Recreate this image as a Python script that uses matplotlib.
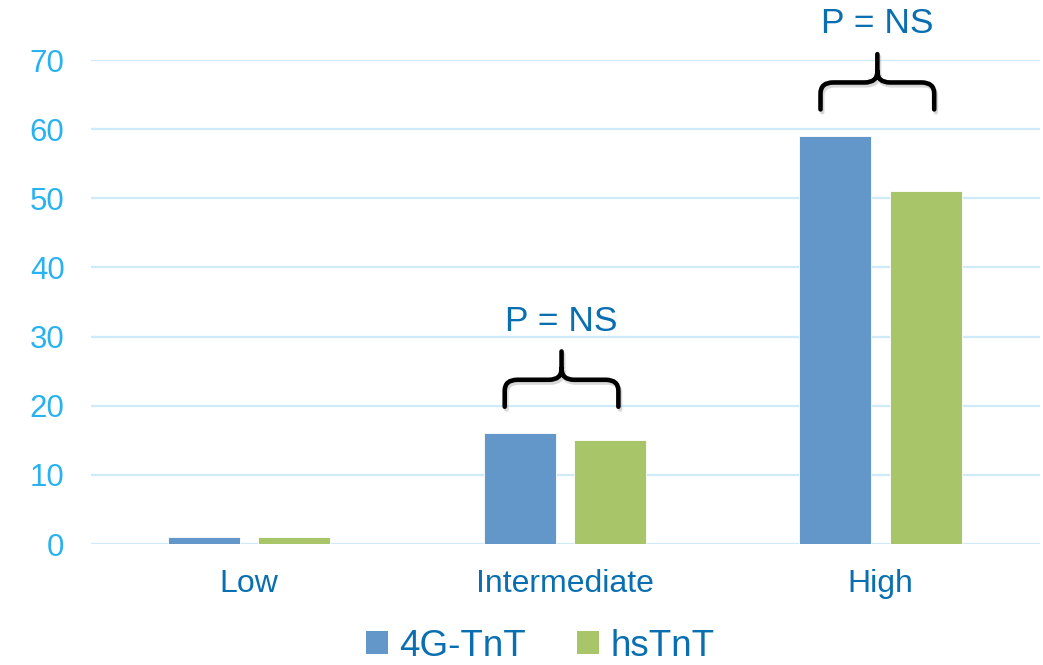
import matplotlib
matplotlib.use("Agg")
import matplotlib.pyplot as plt
from matplotlib.path import Path
from matplotlib.patches import PathPatch, Patch
import matplotlib.patheffects as pe
import numpy as np

plt.rcParams['font.family'] = ['Liberation Sans', 'DejaVu Sans']

categories = ["Low", "Intermediate", "High"]
series_names = ["4G-TnT", "hsTnT"]
tnt_4g = [1, 16, 59]
hs_tnt = [1, 15, 51]
y_ticks = [0, 10, 20, 30, 40, 50, 60, 70]
annotated = [1, 2]          # categories with a comparison bracket
annotation_text = "P = NS"

blue = "#6397C9"
green = "#A9C56A"
tick_blue = "#29B2F2"
text_blue = "#0A6FB0"
grid_col = "#CFEBFA"

fig = plt.figure(figsize=(10.43, 6.65), dpi=100)
ax = fig.add_axes([91 / 1043, 121 / 665, (1040 - 91) / 1043, (605 - 121) / 665])

x = np.arange(len(categories))
w = 0.228
off = 0.143
ax.bar(x - off, tnt_4g, w, color=blue, edgecolor="white", linewidth=0.6, zorder=3)
ax.bar(x + off, hs_tnt, w, color=green, edgecolor="white", linewidth=0.6, zorder=3)

ax.set_xlim(-0.5, 2.505)
ax.set_ylim(0, 70)
ax.set_yticks(y_ticks)
ax.set_xticks(x)
ax.set_xticklabels(categories)
ax.yaxis.grid(True, color=grid_col, linewidth=1.6, zorder=0)
ax.set_axisbelow(True)
for s in ax.spines.values():
    s.set_visible(False)
ax.tick_params(axis="both", length=0)
ax.tick_params(axis="y", labelsize=22.5, labelcolor=tick_blue, pad=19)
ax.tick_params(axis="x", labelsize=23, labelcolor=text_blue, pad=18)


def brace(ax, x0, x1, xm, y0, h1, h2):
    """Curly bracket: arms from y0 up to y0+h1, cusp up to y0+h1+h2 at xm."""
    r = 0.04
    c = 1.6
    yh = y0 + h1
    verts = [
        (x0, y0), (x0, yh - c), (x0, yh), (x0 + r, yh),
        (xm - r, yh), (xm, yh), (xm, yh + c), (xm, yh + h2),
        (xm, yh + c), (xm, yh), (xm + r, yh),
        (x1 - r, yh), (x1, yh), (x1, yh - c), (x1, y0),
    ]
    codes = [Path.MOVETO, Path.LINETO, Path.CURVE3, Path.CURVE3,
             Path.LINETO, Path.CURVE3, Path.CURVE3, Path.LINETO,
             Path.MOVETO, Path.CURVE3, Path.CURVE3,
             Path.LINETO, Path.CURVE3, Path.CURVE3, Path.LINETO]
    p = PathPatch(Path(verts, codes), fill=False, edgecolor="black",
                  linewidth=3.3, capstyle="round", joinstyle="round",
                  clip_on=False, zorder=5)
    p.set_path_effects([pe.SimpleLineShadow(offset=(1.2, -2), shadow_color="gray", alpha=0.3),
                        pe.Normal()])
    ax.add_patch(p)


for i in annotated:
    top = max(tnt_4g[i], hs_tnt[i])
    base = top + 3.85
    h1, h2 = 3.9, 4.1
    brace(ax, i - 0.19, i + 0.17, i - 0.01, base, h1, h2)
    ax.text(i - 0.01, base + h1 + h2 + 3.0, annotation_text, ha="center", va="baseline",
            fontsize=25.5, color=text_blue, clip_on=False)

handles = [Patch(facecolor=blue, edgecolor="none"), Patch(facecolor=green, edgecolor="none")]
fig.legend(handles, series_names, loc="center", bbox_to_anchor=(540 / 1043, 19 / 665),
           ncol=2, frameon=False, fontsize=26.5, labelcolor=text_blue,
           handlelength=0.6, handleheight=0.6, handletextpad=0.3, columnspacing=1.4,
           borderpad=0, borderaxespad=0)

fig.savefig("out.png", dpi=100)
